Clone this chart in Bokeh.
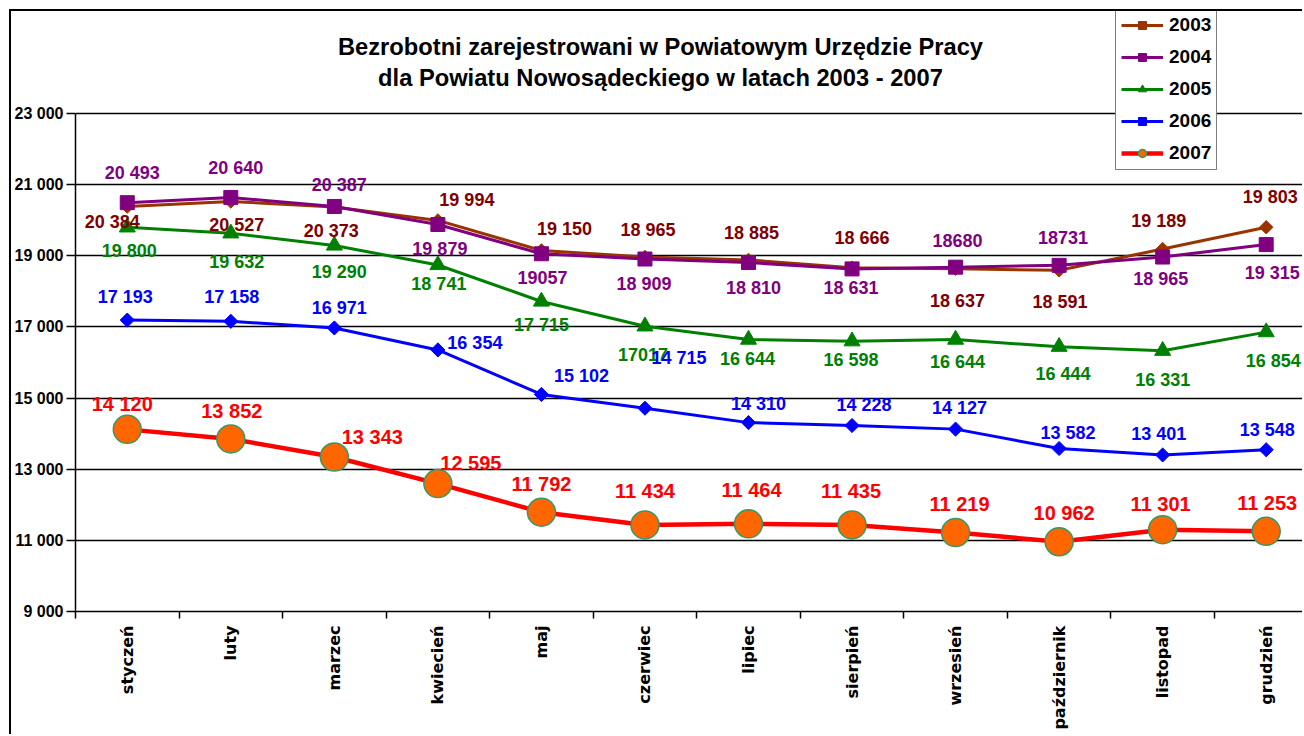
import math
from bokeh.plotting import figure
from bokeh.models import (ColumnDataSource, LabelSet, Label, Legend, LegendItem,
                          FixedTicker, Range1d)
from bokeh.core.properties import value
from bokeh.embed import file_html
from bokeh.resources import INLINE

# ---------------- data ----------------
months = ["styczeń", "luty", "marzec", "kwiecień", "maj", "czerwiec", "lipiec",
          "sierpień", "wrzesień", "październik", "listopad", "grudzień"]

v2003 = [20384, 20527, 20373, 19994, 19150, 18965, 18885, 18666, 18637, 18591, 19189, 19803]
v2004 = [20493, 20640, 20387, 19879, 19057, 18909, 18810, 18631, 18680, 18731, 18965, 19315]
v2005 = [19800, 19632, 19290, 18741, 17715, 17017, 16644, 16598, 16644, 16444, 16331, 16854]
v2006 = [17193, 17158, 16971, 16354, 15102, 14715, 14310, 14228, 14127, 13582, 13401, 13548]
v2007 = [14120, 13852, 13343, 12595, 11792, 11434, 11464, 11435, 11219, 10962, 11301, 11253]

lab2003 = ["20 384", "20 527", "20 373", "19 994", "19 150", "18 965", "18 885", "18 666",
           "18 637", "18 591", "19 189", "19 803"]
lab2004 = ["20 493", "20 640", "20 387", "19 879", "19057", "18 909", "18 810", "18 631",
           "18680", "18731", "18 965", "19 315"]
lab2005 = ["19 800", "19 632", "19 290", "18 741", "17 715", "17017", "16 644", "16 598",
           "16 644", "16 444", "16 331", "16 854"]
lab2006 = ["17 193", "17 158", "16 971", "16 354", "15 102", "14 715", "14 310", "14 228",
           "14 127", "13 582", "13 401", "13 548"]
lab2007 = ["14 120", "13 852", "13 343", "12 595", "11 792", "11 434", "11 464", "11 435",
           "11 219", "10 962", "11 301", "11 253"]

years = ["2003", "2004", "2005", "2006", "2007"]

y_ticks = [9000, 11000, 13000, 15000, 17000, 19000, 21000, 23000]
y_tick_labels = ["9 000", "11 000", "13 000", "15 000", "17 000", "19 000", "21 000", "23 000"]

title_lines = ["Bezrobotni zarejestrowani w Powiatowym Urzędzie Pracy",
               "dla Powiatu Nowosądeckiego w latach 2003 - 2007"]

# ---------------- label placement (pixels: dx right, dy up) ----------------
dx2003 = [-15, 6, -3, 29, 23, 3, 3, 10, 2, 1, -4, 4]
dy2003 = [-15, -24, -24, 20, 21, 27, 27, 30, -32, -32, 28, 30]
dx2004 = [5, 5, 5, 2, 1, -1, 5, -1, 2, 4, -2, 6]
dy2004 = [30, 29, 21, -24, -24, -25, -25, -19, 27, 28, -22, -28]
dx2005 = [2, 6, 5, 1, 0, -2, -1, -1, 2, 4, 0, 7]
dy2005 = [-24, -29, -27, -19, -24, -28, -19, -19, -22, -27, -29, -29]
dx2006 = [-2, 1, 5, 37, 40, 34, 10, 12, 4, 9, -4, 1]
dy2006 = [23, 24, 20, 7, 18, 50, 19, 21, 21, 16, 21, 20]
dx2007 = [-5, 1, 38, 33, 0, 0, 3, -1, 4, 5, -2, 1]
dy2007 = [25, 28, 20, 21, 28, 34, 34, 34, 29, 29, 26, 28]

FONT = "Liberation Sans"
W, H = 1293, 725

p = figure(width=W, height=H, output_backend="svg", toolbar_location=None,
           x_range=Range1d(-0.5, 11.37), y_range=Range1d(9000, 25867.5),
           min_border_left=62, min_border_right=0, min_border_top=0,
           min_border_bottom=125, background_fill_color="white",
           border_fill_color="white")
p.outline_line_color = None
p.styles = {"margin-left": "9px", "margin-top": "9px",
            "border-left": "2px solid black", "border-top": "2px solid black"}

# axes
xs = list(range(len(months)))
p.xaxis.ticker = FixedTicker(ticks=xs, minor_ticks=[i - 0.5 for i in range(len(months) + 1)])
p.xaxis.major_label_overrides = {i: m for i, m in enumerate(months)}
p.xaxis.major_label_orientation = math.pi / 2
p.xaxis.major_tick_out = 0
p.xaxis.major_tick_in = 0
p.xaxis.minor_tick_out = 7
p.xaxis.minor_tick_in = 0
p.xaxis.minor_tick_line_color = "black"
p.xaxis.minor_tick_line_width = 1.5
p.xaxis.major_label_standoff = 7
p.xaxis.major_label_text_font = "DejaVu Sans"
p.xaxis.major_label_text_font_style = "bold"
p.xaxis.major_label_text_font_size = "16px"
p.xaxis.major_label_text_color = "black"
p.xaxis.axis_line_color = "black"
p.xaxis.axis_line_width = 1.5

p.yaxis.ticker = FixedTicker(ticks=y_ticks, minor_ticks=[])
p.yaxis.bounds = (9000, 23000)
p.yaxis.major_label_overrides = {t: l for t, l in zip(y_ticks, y_tick_labels)}
p.yaxis.major_tick_out = 9
p.yaxis.major_tick_in = 0
p.yaxis.major_tick_line_color = "black"
p.yaxis.major_tick_line_width = 1.5
p.yaxis.major_label_standoff = 3
p.yaxis.major_label_text_font = FONT
p.yaxis.major_label_text_font_style = "bold"
p.yaxis.major_label_text_font_size = "16px"
p.yaxis.major_label_text_color = "black"
p.yaxis.axis_line_color = "black"
p.yaxis.axis_line_width = 1.5

p.xgrid.visible = False
p.ygrid.ticker = FixedTicker(ticks=y_ticks)
p.ygrid.grid_line_color = "black"
p.ygrid.grid_line_width = 1.5

series = [
    dict(vals=v2003, labs=lab2003, dx=dx2003, dy=dy2003, line="#993300", txt="#800000",
         marker="square", angle=math.pi / 4, size=9.5, fill="#993300", mline="#993300",
         lw=3, fs="18px"),
    dict(vals=v2004, labs=lab2004, dx=dx2004, dy=dy2004, line="#800080", txt="#800080",
         marker="square", angle=0, size=14, fill="#800080", mline="#800080",
         lw=3, fs="18px"),
    dict(vals=v2005, labs=lab2005, dx=dx2005, dy=dy2005, line="#008000", txt="#008000",
         marker="triangle", angle=0, size=16, fill="#008000", mline="#008000",
         lw=3, fs="18px"),
    dict(vals=v2006, labs=lab2006, dx=dx2006, dy=dy2006, line="#0000FF", txt="#0000FF",
         marker="square", angle=math.pi / 4, size=10, fill="#0000FF", mline="#0000FF",
         lw=3, fs="18px"),
    dict(vals=v2007, labs=lab2007, dx=dx2007, dy=dy2007, line="#FF0000", txt="#FF0000",
         marker="circle", angle=0, size=28, fill="#FF6600", mline="#339966",
         lw=4.5, fs="20px"),
]

items = []
label_sets = []
for yr, s in zip(years, series):
    src = ColumnDataSource(dict(x=xs, y=s["vals"], t=s["labs"], dx=s["dx"], dy=s["dy"]))
    lr = p.line("x", "y", source=src, line_color=s["line"], line_width=s["lw"])
    sr = p.scatter("x", "y", source=src, marker=s["marker"], size=s["size"],
                   angle=s["angle"], fill_color=s["fill"], line_color=s["mline"],
                   line_width=1.5 if s["marker"] == "circle" else 1)
    items.append(LegendItem(label=yr, renderers=[lr, sr]))
    label_sets.append(LabelSet(x="x", y="y", text="t", source=src,
                               x_offset="dx", y_offset="dy",
                               text_align="center", text_baseline="middle",
                               text_font=value(FONT), text_font_style="bold",
                               text_font_size=s["fs"], text_color=s["txt"]))

for ls in label_sets:
    p.add_layout(ls)

legend = Legend(items=items, location=(1040, 441), orientation="vertical",
                border_line_color="black", border_line_width=1.5,
                background_fill_color="white", background_fill_alpha=1.0,
                label_text_font=FONT, label_text_font_style="bold",
                label_text_font_size="19px", label_text_color="black",
                glyph_width=42, glyph_height=20, label_height=20,
                spacing=10, padding=5, margin=0, label_standoff=6)
p.add_layout(legend)

for i, t in enumerate(title_lines):
    p.add_layout(Label(x=585, y=565 - 31 * i, x_units="screen", y_units="screen",
                       text=t, text_align="center", text_baseline="middle",
                       text_font=FONT, text_font_style="bold",
                       text_font_size="23.7px", text_color="black"))

open("out.html", "w").write(file_html(p, INLINE))
